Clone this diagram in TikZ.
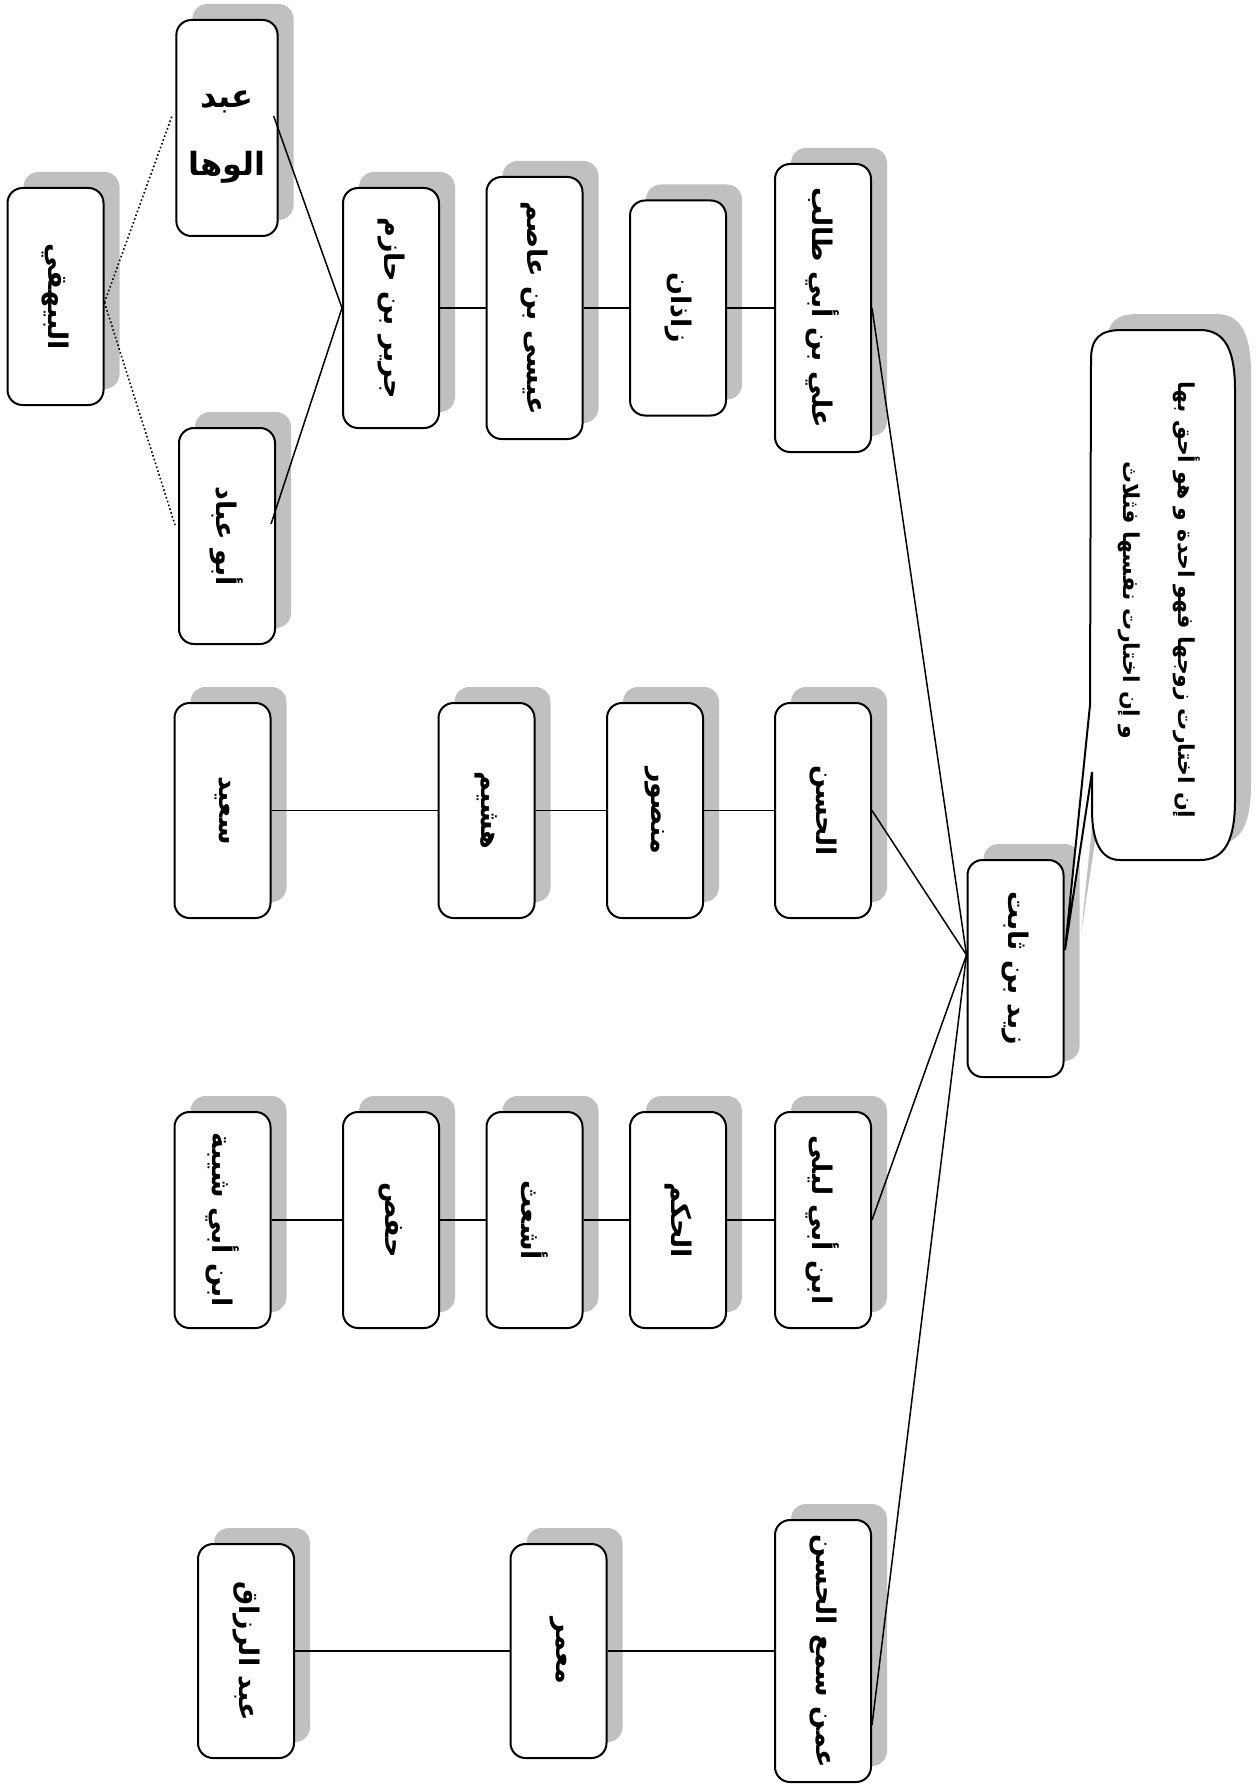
\documentclass[tikz,border=0pt]{standalone}
\usepackage{fontspec}
\usepackage{graphicx}
\usetikzlibrary{shadows,calc}
\TeXXeTstate=1
\newfontfamily\arabicfont[Script=Arabic]{DejaVu Sans}
\definecolor{shadowgray}{HTML}{C0C0C0}
\newcommand{\rt}[1]{\rotatebox{-90}{\arabicfont\bfseries\fontsize{13.5}{16}\selectfont\beginR #1\endR}}
\begin{document}
\begin{tikzpicture}[x=0.5pt,y=-0.5pt,
  namebox/.style={draw, line width=1pt, rounded corners=7.5pt, fill=white,
    minimum width=48pt, inner sep=0pt,
    drop shadow={shadow xshift=8pt, shadow yshift=8pt, fill=shadowgray, draw=none, opacity=1}},
  conn/.style={line width=0.75pt},
  dots/.style={line width=0.8pt, dash pattern=on 0.8pt off 1.2pt}]
\useasboundingbox (0,0) rectangle (1257,1787);

% row 1
\node[namebox, minimum height=108.5pt] (bayhaqi) at (55.5,296.5) {\rt{البيهقي}};
\node[namebox, minimum height=108pt] (abdwaha) at (227,128)
  {\raisebox{13pt}{\arabicfont\bfseries\fontsize{16}{34}\selectfont\begin{tabular}{c}\beginR عبد\endR\\\beginR الوها\endR\end{tabular}}};
\node[namebox, minimum height=108pt] (abuabbad) at (227,536) {\rt{أبو عباد}};
\node[namebox, minimum height=120pt] (jarir) at (391,308) {\rt{جرير بن حازم}};
\node[namebox, minimum height=131pt] (isa) at (534.5,308) {\rt{عيسى بن عاصم}};
\node[namebox, minimum height=107.5pt] (zadhan) at (678,308) {\rt{زاذان}};
\node[namebox, minimum height=144pt] (ali) at (823,308) {\rt{علي بن أبي طالب}};

% row 2
\node[namebox, minimum height=107.5pt] (saeed) at (222.5,810.5) {\rt{سعيد}};
\node[namebox, minimum height=107.5pt] (hushaym) at (486.5,810.5) {\rt{هشيم}};
\node[namebox, minimum height=107.5pt] (mansur) at (655,810.5) {\rt{منصور}};
\node[namebox, minimum height=107.5pt] (hasan) at (823,810.5) {\rt{الحسن}};

% row 3
\node[namebox, minimum height=108pt] (shayba) at (222.5,1220) {\rt{ابن أبي شيبة}};
\node[namebox, minimum height=108pt] (hafs) at (391,1220) {\rt{حفص}};
\node[namebox, minimum height=108pt] (ashath) at (534.5,1220) {\rt{أشعث}};
\node[namebox, minimum height=108pt] (hakam) at (678,1220) {\rt{الحكم}};
\node[namebox, minimum height=108pt] (layla) at (823,1220) {\rt{ابن أبي ليلى}};

% row 4
\node[namebox, minimum height=107pt] (razzaq) at (246,1651) {\rt{عبد الرزاق}};
\node[namebox, minimum height=107pt] (mamar) at (558.5,1651) {\rt{معمر}};
\node[namebox, minimum height=131pt] (amman) at (823,1651) {\rt{عمن سمع الحسن}};

% centre
\node[namebox, minimum height=108.5pt] (zayd) at (1015.5,968.5) {\rt{زيد بن ثابت}};

% callout
\coordinate (tip) at (1065,950);
\begin{scope}[shift={(16,-16)}]
\fill[shadowgray] (1065,950) -- (1090,705) -- (1091,360) .. controls (1091,338) and (1100,330) .. (1122,330)
  -- (1200,330) .. controls (1225,330) and (1235,350) .. (1235,390)
  -- (1235,800) .. controls (1235,840) and (1225,860) .. (1200,860)
  -- (1120,860) .. controls (1100,860) and (1092,840) .. (1092,810) -- (1092,772) -- cycle;
\end{scope}
\draw[line width=1pt, fill=white, line join=miter] (tip) -- (1090,705) -- (1091,360) .. controls (1091,338) and (1100,330) .. (1122,330)
  -- (1200,330) .. controls (1225,330) and (1235,350) .. (1235,390)
  -- (1235,800) .. controls (1235,840) and (1225,860) .. (1200,860)
  -- (1120,860) .. controls (1100,860) and (1092,840) .. (1092,810) -- (1092,772) -- cycle;
\node (note) at (1162,600) {\rotatebox{-90}{\arabicfont\bfseries\fontsize{11}{27.5}\selectfont
  \begin{tabular}{c}\beginR إن اختارت زوجها فهو احدة و هو أحق بها\endR\\\beginR و إن اختارت نفسها فثلاث\endR\end{tabular}}};

% connectors
\draw[dots] ([yshift=-3pt]bayhaqi.east) -- ([xshift=-1.5pt,yshift=6.5pt]abdwaha.west);
\draw[dots] ([yshift=-3pt]bayhaqi.east) -- ([xshift=-1.5pt,yshift=5.5pt]abuabbad.west);
\draw[conn] ([xshift=-2.5pt,yshift=6pt]abdwaha.east) -- (jarir.west);
\draw[conn] ([xshift=-2.5pt,yshift=6pt]abuabbad.east) -- (jarir.west);
\draw[conn] (jarir.east) -- (isa.west);
\draw[conn] (isa.east) -- (zadhan.west);
\draw[conn] (zadhan.east) -- (ali.west);
\draw[conn] (saeed.east) -- (hushaym.west);
\draw[conn] (hushaym.east) -- (mansur.west);
\draw[conn] (mansur.east) -- (hasan.west);
\draw[conn] (shayba.east) -- (hafs.west);
\draw[conn] (hafs.east) -- (ashath.west);
\draw[conn] (ashath.east) -- (hakam.west);
\draw[conn] (hakam.east) -- (layla.west);
\draw[conn] (razzaq.east) -- (mamar.west);
\draw[conn] (mamar.east) -- (amman.west);
\draw[conn] (ali.east) -- ([yshift=6.75pt]zayd.west);
\draw[conn] (hasan.east) -- ([yshift=6.75pt]zayd.west);
\draw[conn] (layla.east) -- ([yshift=6.75pt]zayd.west);
\draw[conn] ([yshift=-37pt]amman.east) -- ([yshift=6.75pt]zayd.west);
\end{tikzpicture}
\end{document}
